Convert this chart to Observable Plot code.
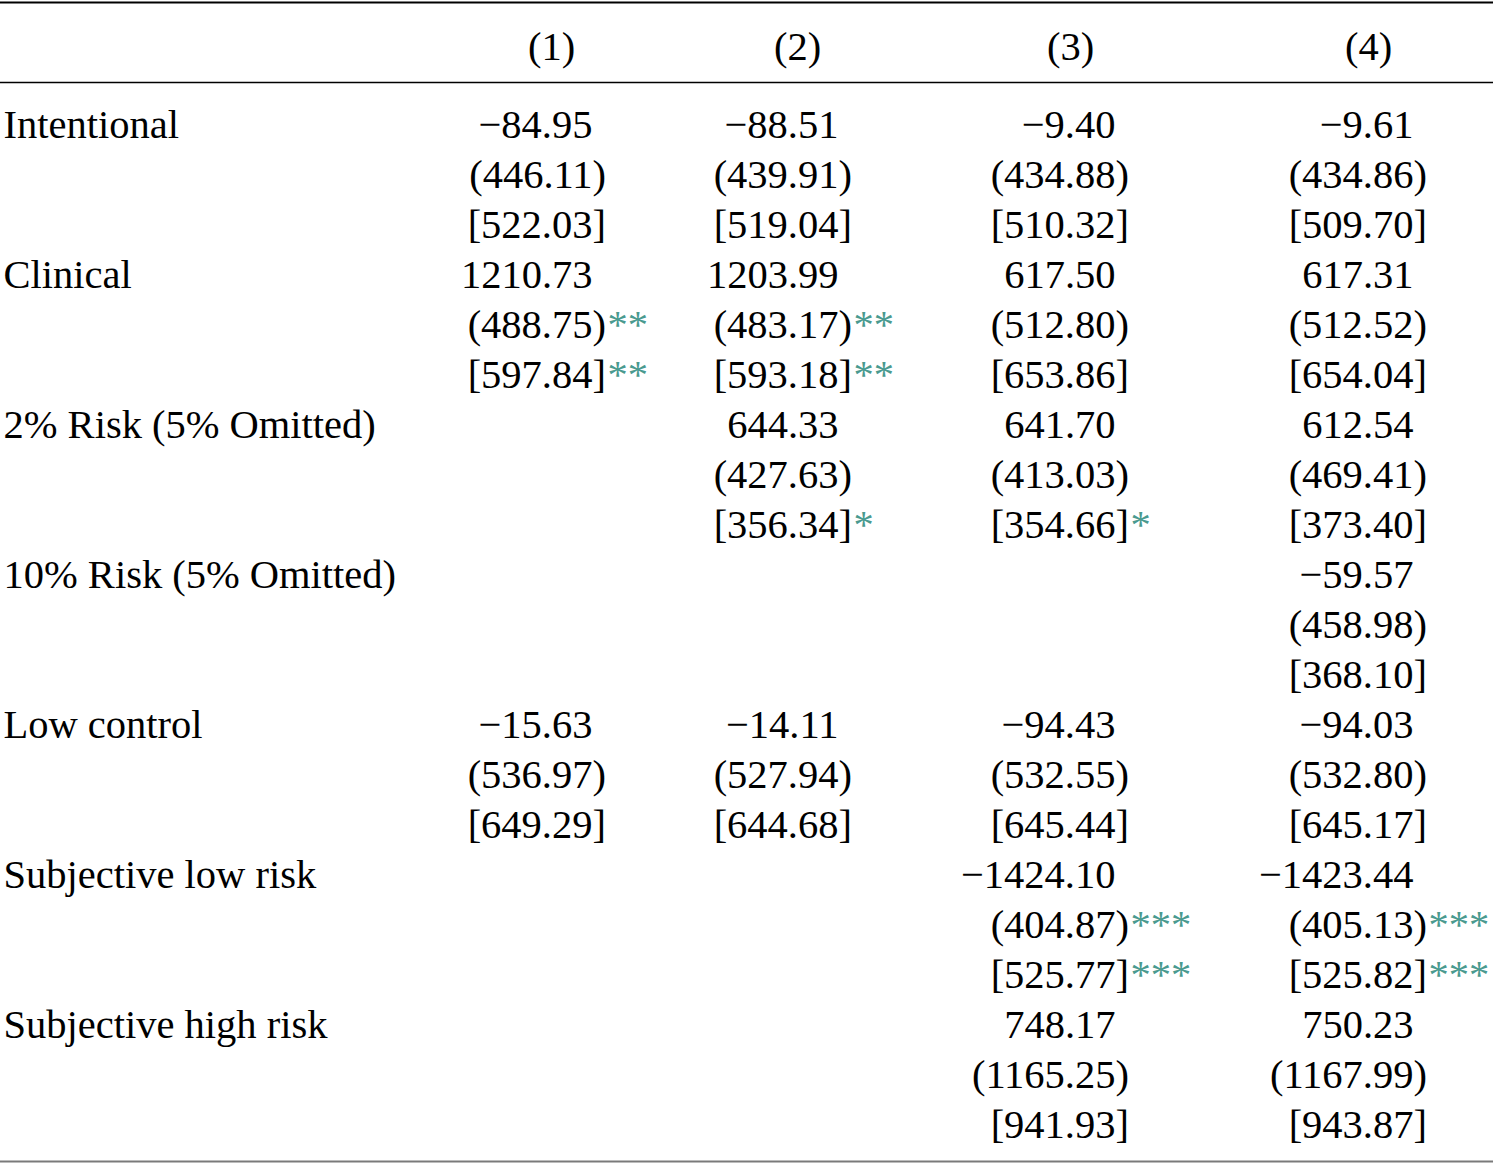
<!DOCTYPE html>
<html>
<head>
<meta charset="utf-8">
<script src="https://cdn.jsdelivr.net/npm/d3@7"></script>
<script src="https://cdn.jsdelivr.net/npm/@observablehq/plot@0.6"></script>
<style>
  html, body { margin: 0; padding: 0; background: #fff; }
  #chart svg { display: block; }
</style>
</head>
<body>
<div id="chart"></div>
<script>
// ---- Data ----
const columns = ["(1)", "(2)", "(3)", "(4)"];
const variables = [
  "Intentional",
  "Clinical",
  "2% Risk (5% Omitted)",
  "10% Risk (5% Omitted)",
  "Low control",
  "Subjective low risk",
  "Subjective high risk"
];
const coefficients = [
  [-84.95, -88.51, -9.40, -9.61],
  [1210.73, 1203.99, 617.50, 617.31],
  [null, 644.33, 641.70, 612.54],
  [null, null, null, -59.57],
  [-15.63, -14.11, -94.43, -94.03],
  [null, null, -1424.10, -1423.44],
  [null, null, 748.17, 750.23]
];
const standardErrors = [
  [446.11, 439.91, 434.88, 434.86],
  [488.75, 483.17, 512.80, 512.52],
  [null, 427.63, 413.03, 469.41],
  [null, null, null, 458.98],
  [536.97, 527.94, 532.55, 532.80],
  [null, null, 404.87, 405.13],
  [null, null, 1165.25, 1167.99]
];
const standardErrorStars = [
  ["", "", "", ""],
  ["**", "**", "", ""],
  ["", "", "", ""],
  ["", "", "", ""],
  ["", "", "", ""],
  ["", "", "***", "***"],
  ["", "", "", ""]
];
const bracketErrors = [
  [522.03, 519.04, 510.32, 509.70],
  [597.84, 593.18, 653.86, 654.04],
  [null, 356.34, 354.66, 373.40],
  [null, null, null, 368.10],
  [649.29, 644.68, 645.44, 645.17],
  [null, null, 525.77, 525.82],
  [null, null, 941.93, 943.87]
];
const bracketErrorStars = [
  ["", "", "", ""],
  ["**", "**", "", ""],
  ["", "*", "*", ""],
  ["", "", "", ""],
  ["", "", "", ""],
  ["", "", "***", "***"],
  ["", "", "", ""]
];

// ---- Build table cells ----
const fmt = v => (v < 0 ? "\u2212" : "") + d3.format(".2f")(Math.abs(v));
const labels = variables.map((name, i) => ({col: 0, row: 3 * i, text: name}));
const mains = [];
const tails = [];
const stars = [];
variables.forEach((name, i) => {
  for (let c = 0; c < columns.length; c++) {
    const b = coefficients[i][c];
    if (b == null) continue;
    const col = c + 1;
    mains.push({col, row: 3 * i, text: fmt(b)});
    mains.push({col, row: 3 * i + 1, text: "(" + fmt(standardErrors[i][c])});
    tails.push({col, row: 3 * i + 1, text: ")"});
    mains.push({col, row: 3 * i + 2, text: "[" + fmt(bracketErrors[i][c])});
    tails.push({col, row: 3 * i + 2, text: "]"});
    if (standardErrorStars[i][c]) stars.push({col, row: 3 * i + 1, text: standardErrorStars[i][c]});
    if (bracketErrorStars[i][c]) stars.push({col, row: 3 * i + 2, text: bracketErrorStars[i][c]});
  }
});
const headers = columns.map((t, i) => ({col: i + 1, text: t}));

const FS = 40.5;
const chart = Plot.plot({
  width: 1493,
  height: 1165,
  margin: 0,
  style: {fontFamily: "'Liberation Serif', 'Times New Roman', serif", fontSize: FS + "px", background: "#fff", color: "#000"},
  x: {type: "linear", domain: [0, 1, 2, 3, 4], range: [3, 592, 838, 1115, 1413], axis: null},
  y: {type: "linear", domain: [0, 20], range: [125, 1125], axis: null},
  marks: [
    Plot.ruleY([-2.46], {stroke: "#000", strokeWidth: 2}),
    Plot.ruleY([-0.86], {stroke: "#000", strokeWidth: 1.4}),
    Plot.ruleY([20.72], {stroke: "#7a7a7a", strokeWidth: 2}),
    Plot.text(headers.filter(d => d.col <= 2), {x: "col", y: () => -1.56, text: "text", dx: -41, fontSize: FS, fill: "#000"}),
    Plot.text(headers.filter(d => d.col > 2), {x: "col", y: () => -1.56, text: "text", dx: -45, fontSize: FS, fill: "#000"}),
    Plot.text(labels, {x: "col", y: "row", text: "text", textAnchor: "start", fontSize: FS, fill: "#000"}),
    Plot.text(mains, {x: "col", y: "row", text: "text", textAnchor: "end", fontSize: FS, fill: "#000"}),
    Plot.text(tails, {x: "col", y: "row", text: "text", textAnchor: "start", fontSize: FS, fill: "#000"}),
    Plot.text(stars, {x: "col", y: "row", text: "text", textAnchor: "start", dx: 15, fontSize: FS, fill: "#4a9a8f"})
  ]
});
document.getElementById("chart").appendChild(chart);
</script>
</body>
</html>
